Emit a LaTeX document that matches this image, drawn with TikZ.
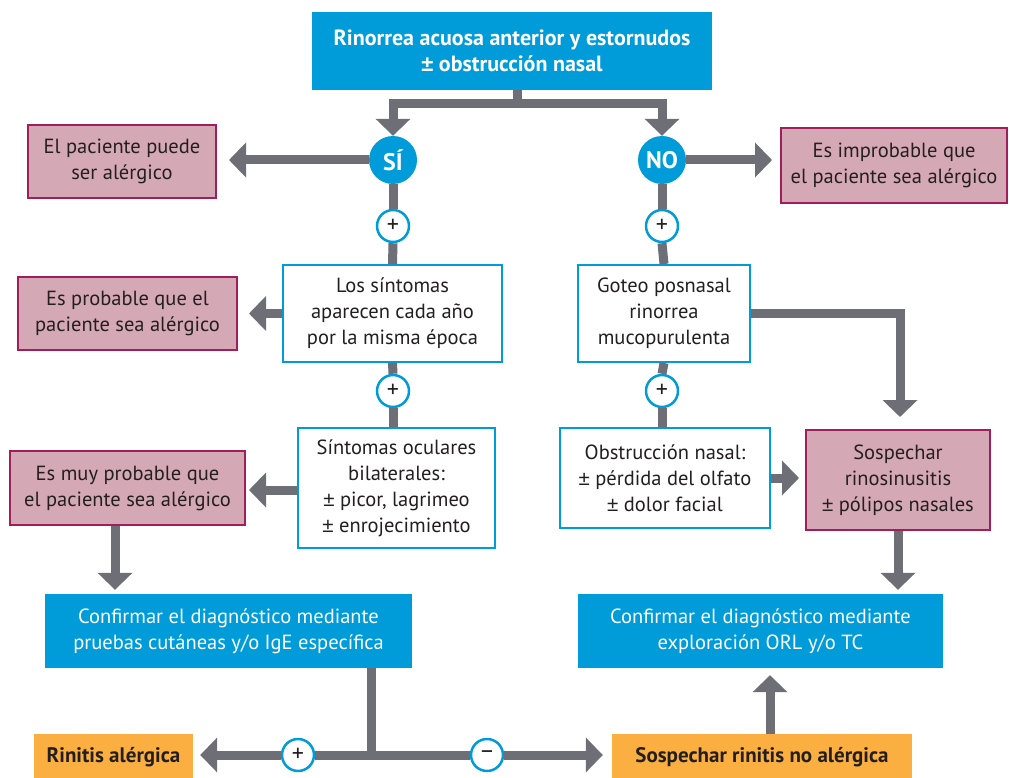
\documentclass[tikz,border=0pt]{standalone}
\usepackage{fontspec}
\setmainfont{PT Sans}
\newfontfamily\symfont{Liberation Sans}
\newcommand\masmenos{{\symfont ±}}
\usetikzlibrary{arrows.meta}

\definecolor{azul}{HTML}{009CDA}
\definecolor{gris}{HTML}{6D6E76}
\definecolor{rosa}{HTML}{D5A8B6}
\definecolor{magenta}{HTML}{A01E5A}
\definecolor{naranja}{HTML}{FAAF40}
\definecolor{testo}{HTML}{231F20}

\tikzset{
    base/.style={align=center, inner sep=0pt, text=testo,
        font=\fontsize{20.5}{26}\selectfont},
    bluebox/.style={base, fill=azul, text=white},
    outbox/.style={base, draw=azul, line width=2pt, fill=white},
    pinkbox/.style={base, draw=magenta, line width=2pt, fill=rosa},
    orangebox/.style={base, fill=naranja, font=\fontsize{21}{26}\selectfont\bfseries},
    answer/.style={circle, fill=azul, text=white, minimum size=48pt, inner sep=0pt,
        font=\fontsize{24}{24}\selectfont\bfseries},
    sign/.style={circle, draw=azul, line width=2.5pt, fill=white, minimum size=32pt,
        inner sep=0pt, text=testo, font=\fontsize{24}{24}\selectfont},
    line/.style={draw=gris, line width=9pt},
    arr/.style={line, -{Triangle[width=34pt,length=17pt]}}
}

\begin{document}
\begin{tikzpicture}[x=1pt,y=-1pt]
        \useasboundingbox (0,0) rectangle (1009,778);

        %%%%%%%%%% Riquadri %%%%%%%%%%
        \node[bluebox, minimum width=400pt, minimum height=78pt,
            font=\fontsize{22}{26}\selectfont\bfseries] (top) at (512,51)
            {Rinorrea acuosa anterior y estornudos\\\masmenos{} obstrucción nasal};

        \node[answer] (si) at (393,160) {SÍ};
        \node[answer] (no) at (662,160) {NO};

        \node[pinkbox, minimum width=188pt, minimum height=73pt] (alerg) at (122,161.5)
            {El paciente puede\\ser alérgico};
        \node[pinkbox, minimum width=226pt, minimum height=75pt] (improb) at (894,165.5)
            {Es improbable que\\el paciente sea alérgico};

        \node[sign] (p1) at (393,226) {+};
        \node[sign] (p2) at (662,226) {+};

        \node[outbox, minimum width=219pt, minimum height=97pt] (sint) at (392.5,313.5)
            {Los síntomas\\aparecen cada año\\por la misma época};
        \node[outbox, minimum width=172pt, minimum height=97pt] (goteo) at (664,313.5)
            {Goteo posnasal\\rinorrea\\mucopurulenta};
        \node[pinkbox, minimum width=219pt, minimum height=73pt] (prob) at (127.5,313.5)
            {Es probable que el\\paciente sea alérgico};

        \node[sign] (p3) at (393,391) {+};
        \node[sign] (p4) at (662,391) {+};

        \node[outbox, minimum width=197pt, minimum height=120pt] (ocul) at (396.5,488)
            {Síntomas oculares\\bilaterales:\\\masmenos{} picor, lagrimeo\\\masmenos{} enrojecimiento};
        \node[pinkbox, minimum width=235pt, minimum height=74pt] (muy) at (127.5,488)
            {Es muy probable que\\el paciente sea alérgico};
        \node[outbox, minimum width=210pt, minimum height=100pt] (obst) at (665,478)
            {Obstrucción nasal:\\\masmenos{} pérdida del olfato\\\masmenos{} dolor facial};
        \node[pinkbox, minimum width=184pt, minimum height=100pt] (sosp) at (898,480)
            {Sospechar\\rinosinusitis\\\masmenos{} pólipos nasales};

        \node[bluebox, minimum width=367pt, minimum height=74pt] (conf1) at (228.5,631)
            {Confirmar el diagnóstico mediante\\pruebas cutáneas y/o IgE específica};
        \node[bluebox, minimum width=365pt, minimum height=74pt] (conf2) at (760.5,631)
            {Confirmar el diagnóstico mediante\\exploración ORL y/o TC};

        \node[orangebox, minimum width=159pt, minimum height=46pt] (rinal) at (113.5,757)
            {Rinitis alérgica};
        \node[orangebox, minimum width=300pt, minimum height=46pt] (sosrin) at (762,757)
            {Sospechar rinitis no alérgica};

        \node[sign] (p5) at (298,755) {+};
        \node[sign] (m1) at (487,755) {–};

        %%%%%%%%%% Frecce %%%%%%%%%%
        \coordinate (split) at (517,104);
        \draw[line] (top.south -| split) -- (split);
        \draw[arr] (split) -| (si.north);
        \draw[arr] (split) -| (no.north);

        \draw[arr, shorten >=12pt] (si.west) -- (si.west -| alerg.east);
        \draw[arr, shorten >=8pt] (no.east) -- (no.east -| improb.west);

        \draw[line] (si.south) -- (p1.north);
        \draw[line] (p1.south) -- (sint.north);
        \draw[line] (no.south) -- (p2.north);
        \draw[line] (p2.south) -- (goteo.north);

        \draw[arr, shorten >=11pt] (sint.west) -- (prob.east);
        \draw[arr, shorten >=12pt] (goteo.east) -| (sosp.north -| 900,0);

        \draw[line] (sint.south) -- (p3.north);
        \draw[line] (p3.south) -- (ocul.north -| p3);
        \draw[line] (goteo.south) -- (p4.north);
        \draw[line] (p4.south) -- (obst.north -| p4);

        \draw[arr, shorten >=3pt] (ocul.west |- 0,490) -- (muy.east |- 0,490);
        \draw[arr, shorten >=6pt] (obst.east) -- (obst.east -| sosp.west);

        \draw[arr, shorten >=4pt] (muy.south -| 115,0) -- (conf1.north -| 115,0);
        \draw[arr, shorten >=4pt] (sosp.south) -- (conf2.north -| sosp.south);

        \coordinate (fork) at (371,755);
        \draw[line] (conf1.south -| fork) -- (fork);
        \draw[line] (fork) -- (p5.east);
        \draw[arr, shorten >=7pt] (p5.west) -- (rinal.east |- p5);
        \draw[line] (fork) -- (m1.west);
        \draw[arr, shorten >=9pt] (m1.east) -- (sosrin.west |- m1);
        \draw[arr, shorten >=7pt] (sosrin.north -| 770,0) -- (conf2.south -| 770,0);
    \end{tikzpicture}
\end{document}
